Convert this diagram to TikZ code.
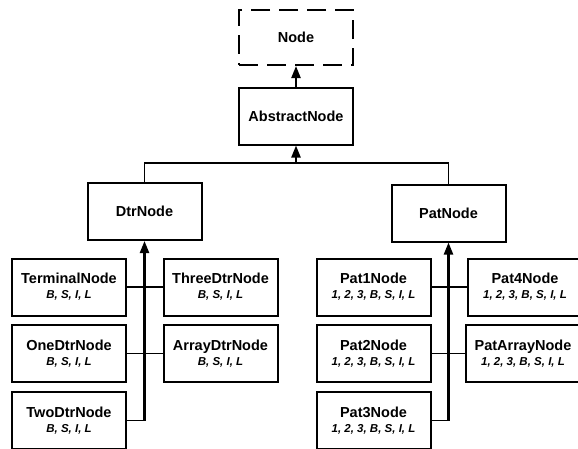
\documentclass[tikz,border=0pt]{standalone}
\usepackage{fontspec}
\setmainfont{Liberation Sans}
\usetikzlibrary{arrows.meta}
\begin{document}
\begin{tikzpicture}[x=1pt,y=-1pt,
  box/.style={draw,line width=2pt,minimum width=114pt,minimum height=57pt,inner sep=0pt,align=center,
    font=\fontsize{14.5}{16}\selectfont\bfseries},
  conn/.style={line width=1.8pt},
  stem/.style={line width=2.2pt,-{Triangle[length=12pt,width=9pt]}},
]
\newcommand{\subl}[1]{\\[-1pt]{\fontsize{11.5}{13}\selectfont\bfseries\itshape #1}}
\useasboundingbox (0,0) rectangle (578,448);
\clip (0,0) rectangle (578,448);
\node[box,minimum height=55pt,dashed,dash pattern=on 19pt off 9pt] (node) at (296,37.5) {Node};
\node[box] (abs) at (296,116) {AbstractNode};
\node[box] (dtr) at (144.5,211.5) {DtrNode};
\node[box] (pat) at (448.5,213) {PatNode};
\node[box] (term) at (69,287) {TerminalNode\subl{B, S, I, L}};
\node[box] (one) at (69,353.5) {OneDtrNode\subl{B, S, I, L}};
\node[box] (two) at (69,420.5) {TwoDtrNode\subl{B, S, I, L}};
\node[box] (three) at (220.5,287) {ThreeDtrNode\subl{B, S, I, L}};
\node[box] (arrd) at (220.5,353.5) {ArrayDtrNode\subl{B, S, I, L}};
\node[box] (p1) at (373.5,287) {Pat1Node\subl{1, 2, 3, B, S, I, L}};
\node[box] (p2) at (373.5,353.5) {Pat2Node\subl{1, 2, 3, B, S, I, L}};
\node[box] (p3) at (373.5,420.5) {Pat3Node\subl{1, 2, 3, B, S, I, L}};
\node[box] (p4) at (525,287) {Pat4Node\subl{1, 2, 3, B, S, I, L}};
\node[box] (parr) at (523,353.5) {PatArrayNode\subl{1, 2, 3, B, S, I, L}};
\coordinate (j) at (296,163);
\draw[stem] (abs.north) -- (node.south);
\draw[stem] (j) -- (abs.south);
\draw[conn] (dtr.north) |- (j) -| (pat.north);
\draw[conn] (term.east) -- (three.west);
\draw[conn] (one.east) -- (arrd.west);
\draw[conn] (p1.east) -- (p4.west);
\draw[conn] (p2.east) -- (parr.west);
\draw[conn] (two.east) -- (two.east -| dtr.south);
\draw[conn] (p3.east) -- (p3.east -| pat.south);
\draw[stem] (two.east -| dtr.south) -- (dtr.south);
\draw[stem] (p3.east -| pat.south) -- (pat.south);
\end{tikzpicture}
\end{document}
